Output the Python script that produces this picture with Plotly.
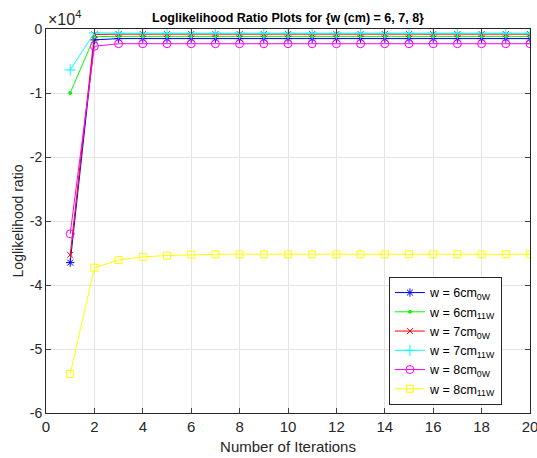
import plotly.graph_objects as go

# Iteration index for every run
iterations = list(range(1, 21))

# Loglikelihood ratio per iteration for each width / weight setting
w6cm_0w = [-36500, -1700] + [-1500] * 18
w6cm_11w = [-10000, -1200] + [-1150] * 18
w7cm_0w = [-35300, -850] + [-800] * 18
w7cm_11w = [-6400, -600] + [-650] * 18
w8cm_0w = [-32000, -2700] + [-2300] * 18
w8cm_11w = [-53900, -37300, -36100, -35600, -35400, -35250] + [-35200] * 14

# Axis ticks (y values shown in units of 10^4)
x_ticks = list(range(0, 21, 2))
y_tick_vals = [-60000, -50000, -40000, -30000, -20000, -10000, 0]
y_tick_text = ["-6", "-5", "-4", "-3", "-2", "-1", "0"]

series = [
    ("w = 6cm<sub>0W</sub>", w6cm_0w, "#0000FF", "asterisk-open", 7),
    ("w = 6cm<sub>11W</sub>", w6cm_11w, "#00FF00", "circle", 3),
    ("w = 7cm<sub>0W</sub>", w7cm_0w, "#FF0000", "x-thin-open", 6),
    ("w = 7cm<sub>11W</sub>", w7cm_11w, "#00FFFF", "cross-thin-open", 8),
    ("w = 8cm<sub>0W</sub>", w8cm_0w, "#FF00FF", "circle-open", 8),
    ("w = 8cm<sub>11W</sub>", w8cm_11w, "#FFFF00", "square-open", 7),
]

fig = go.Figure()
for name, vals, color, symbol, size in series:
    fig.add_trace(go.Scatter(
        x=iterations, y=vals, name=name, mode="lines+markers",
        line=dict(color=color, width=1),
        marker=dict(symbol=symbol, size=size, color=color,
                    line=dict(color=color, width=1)),
    ))

font_family = "Liberation Sans, Arial, Helvetica, sans-serif"

fig.update_layout(
    width=537, height=458,
    margin=dict(l=46, r=7, t=29, b=45),
    paper_bgcolor="white", plot_bgcolor="white",
    font=dict(family=font_family, size=14, color="#262626"),
    title=dict(text="<b>Loglikelihood Ratio Plots for {w (cm) = 6, 7, 8}</b>",
               x=(46 + 242) / 537, xanchor="center", y=1 - 18 / 458, yanchor="middle",
               font=dict(size=12.5, color="#000000")),
    showlegend=True,
    legend=dict(x=0.942, xanchor="right", y=0.021, yanchor="bottom",
                bgcolor="white", bordercolor="#262626", borderwidth=1,
                font=dict(size=12.5, color="#000000"),
                itemwidth=30, tracegroupgap=0),
)

fig.update_xaxes(
    range=[0, 20], tickvals=x_ticks, ticks="inside", ticklen=5,
    ticklabeloverflow="allow", automargin=False,
    tickfont=dict(size=15),
    showgrid=True, gridcolor="#E5E5E5", gridwidth=1,
    showline=True, linecolor="#262626", linewidth=1, mirror="ticks",
    zeroline=False,
    title=dict(text="Number of Iterations", font=dict(size=15, color="#262626"), standoff=7),
)
fig.update_yaxes(
    range=[-60000, 0], tickvals=y_tick_vals, ticktext=y_tick_text,
    ticks="inside", ticklen=5, automargin=False,
    showgrid=True, gridcolor="#E5E5E5", gridwidth=1,
    showline=True, linecolor="#262626", linewidth=1, mirror="ticks",
    zeroline=False,
    title=dict(text="Loglikelihood ratio", font=dict(size=14, color="#262626"), standoff=2),
)

fig.add_annotation(
    text="×10<sup>4</sup>", xref="paper", yref="paper", x=0, y=1,
    xanchor="left", yanchor="bottom", showarrow=False, yshift=-1,
    font=dict(size=16, color="#262626"),
)

fig.write_html("out.html")
